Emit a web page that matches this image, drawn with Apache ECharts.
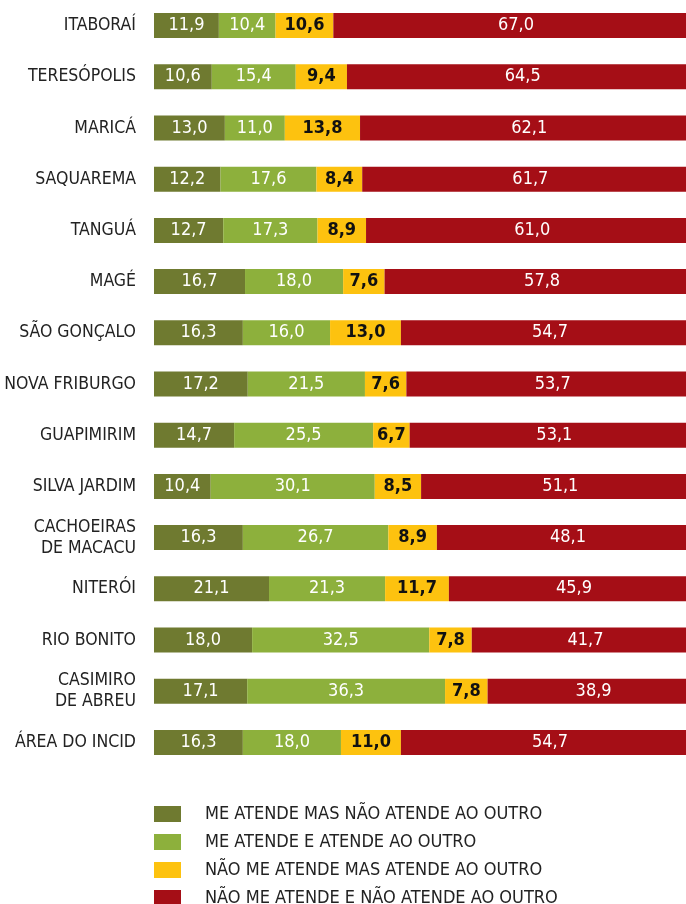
<!DOCTYPE html>
<html><head><meta charset="utf-8">
<script src="https://cdn.jsdelivr.net/npm/echarts@6/dist/echarts.min.js"></script>
<style>html,body{margin:0;padding:0;background:#fff}#c{width:686px;height:904px}</style>
</head><body><div id="c"></div>
<script>
const categories = ['ITABORAÍ','TERESÓPOLIS','MARICÁ','SAQUAREMA','TANGUÁ','MAGÉ','SÃO GONÇALO','NOVA FRIBURGO','GUAPIMIRIM','SILVA JARDIM','CACHOEIRAS\nDE MACACU','NITERÓI','RIO BONITO','CASIMIRO\nDE ABREU','ÁREA DO INCID'];
const seriesNames = ['ME ATENDE MAS NÃO ATENDE AO OUTRO','ME ATENDE E ATENDE AO OUTRO','NÃO ME ATENDE MAS ATENDE AO OUTRO','NÃO ME ATENDE E NÃO ATENDE AO OUTRO'];
const meAtendeNaoOutro = [11.9,10.6,13.0,12.2,12.7,16.7,16.3,17.2,14.7,10.4,16.3,21.1,18.0,17.1,16.3];
const meAtendeAtendeOutro = [10.4,15.4,11.0,17.6,17.3,18.0,16.0,21.5,25.5,30.1,26.7,21.3,32.5,36.3,18.0];
const naoMeAtendeAtendeOutro = [10.6,9.4,13.8,8.4,8.9,7.6,13.0,7.6,6.7,8.5,8.9,11.7,7.8,7.8,11.0];
const naoMeAtendeNaoOutro = [67.0,64.5,62.1,61.7,61.0,57.8,54.7,53.7,53.1,51.1,48.1,45.9,41.7,38.9,54.7];
const colors = ['#6f7a30','#8db03c','#fdc20f','#a50e16'];
const FONT = '"Liberation Sans Narrow","DejaVu Sans Condensed","Roboto",sans-serif';
const values = [meAtendeNaoOutro, meAtendeAtendeOutro, naoMeAtendeAtendeOutro, naoMeAtendeNaoOutro];
const chart = echarts.init(document.getElementById('c'));
chart.setOption({
  animation: false,
  grid: {left: 154, top: 0, right: 0, height: 768, containLabel: false},
  xAxis: {type: 'value', min: 0, max: 97.6, show: false},
  yAxis: {type: 'category', inverse: true, data: categories,
    axisLine: {show: false}, axisTick: {show: false}, splitLine: {show: false},
    axisLabel: {color: '#222', fontSize: 17.5, fontFamily: FONT, margin: 18, lineHeight: 21, align: 'right'}},
  legend: {orient: 'vertical', left: 154, top: 805, height: 120, padding: 0, itemWidth: 27, itemHeight: 16, itemGap: 10, icon: 'rect',
    data: seriesNames, selectedMode: false,
    textStyle: {color: '#222', fontSize: 18, fontFamily: FONT, padding: [0,0,0,19]}},
  series: values.map((v, i) => ({
    name: seriesNames[i], type: 'bar', stack: 'total', data: v, barWidth: 25, clip: false,
    itemStyle: {color: colors[i]},
    label: {show: true, position: 'inside', fontSize: 18, fontFamily: FONT,
      color: i === 2 ? '#111' : '#fff', fontWeight: i === 2 ? 'bold' : 'normal',
      formatter: p => p.value.toFixed(1).replace('.', ',')}
  }))
});
</script></body></html>
